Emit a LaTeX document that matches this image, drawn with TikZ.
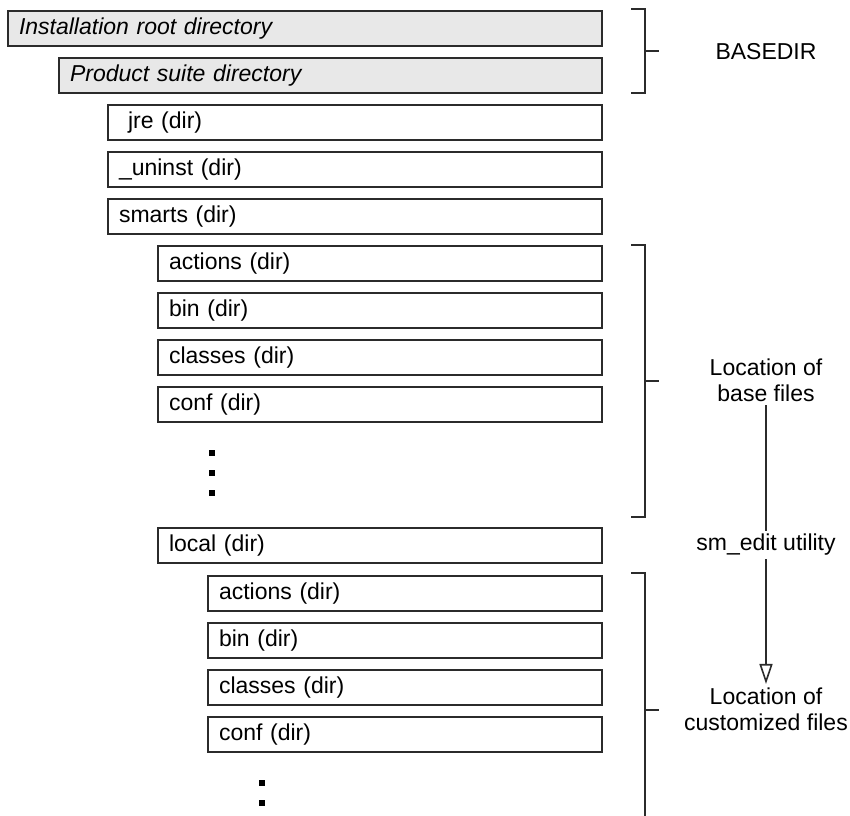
\documentclass[tikz,border=0pt]{standalone}
\usepackage{fontspec}
\setmainfont{Liberation Sans}
\usetikzlibrary{arrows.meta}
\definecolor{dirline}{HTML}{2B2B2B}
\definecolor{dirgray}{HTML}{E8E8E8}

\begin{document}
\begin{tikzpicture}[x=.5pt,y=-.5pt,
        dirbox/.style={draw=dirline,line width=1pt,anchor=north west,minimum height=17.5pt,
                text width=#1,align=left,inner xsep=5.5pt,inner ysep=0pt,font=\fontsize{11.5}{13.2}\selectfont},
        topbox/.style={dirbox=#1,fill=dirgray,font=\fontsize{11.5}{13.2}\selectfont\itshape},
        brace/.style={draw=dirline,line width=1pt},
        note/.style={align=center,inner sep=1.5pt,font=\fontsize{11.5}{13.2}\selectfont},
        dirdot/.style={fill=black,minimum size=3pt,inner sep=0pt}]
                \useasboundingbox (0,0) rectangle (850,815);
                % directory tree
                \node[topbox=286pt] (root) at (7,10) {Installation root directory};
                \node[topbox=260.5pt] (suite) at (58,57) {Product suite directory};
                \node[dirbox=236pt] (jre) at (107,104) {\hspace{4.5pt}jre (dir)};
                \node[dirbox=236pt] (uninst) at (107,151) {\_uninst (dir)};
                \node[dirbox=236pt] (smarts) at (107,198) {smarts (dir)};
                \node[dirbox=211pt] (actions) at (157,245) {actions (dir)};
                \node[dirbox=211pt] (bin) at (157,292) {bin (dir)};
                \node[dirbox=211pt] (classes) at (157,339) {classes (dir)};
                \node[dirbox=211pt] (conf) at (157,386) {conf (dir)};
                \node[dirdot] (dotA) at (212,453) {};\node[dirdot] (dotB) at (212,473) {};\node[dirdot] (dotC) at (212,493) {};
                \node[dirbox=211pt] (local) at (157,527) {local (dir)};
                \node[dirbox=186pt] (lactions) at (207,575) {actions (dir)};
                \node[dirbox=186pt] (lbin) at (207,622) {bin (dir)};
                \node[dirbox=186pt] (lclasses) at (207,669) {classes (dir)};
                \node[dirbox=186pt] (lconf) at (207,716) {conf (dir)};
                \node[dirdot] (dotD) at (262,783) {};\node[dirdot] (dotE) at (262,803) {};
                % brackets
                \draw[brace] (631,9) -- (645,9) -- (645,93) -- (631,93) (645,51) -- (659,51);
                \draw[brace] (631,245) -- (645,245) -- (645,517) -- (631,517) (645,381) -- (659,381);
                \draw[brace] (631,573) -- (645,573) -- (645,830) (645,710) -- (659,710);
                % notes on the right
                \node[note] (basedir) at (766,52) {BASEDIR};
                \node[note] (base) at (766,380) {Location of\\base files};
                \node[note] (smedit) at (766,545) {sm\_edit utility};
                \node[note] (cust) at (766,709) {Location of\\customized files};
                \draw[dirline,line width=.8pt] (base) -- (smedit);
                \draw[dirline,line width=.8pt,-{Triangle[open,length=10pt,width=6.5pt]}] (smedit) -- (cust);
\end{tikzpicture}
\end{document}
